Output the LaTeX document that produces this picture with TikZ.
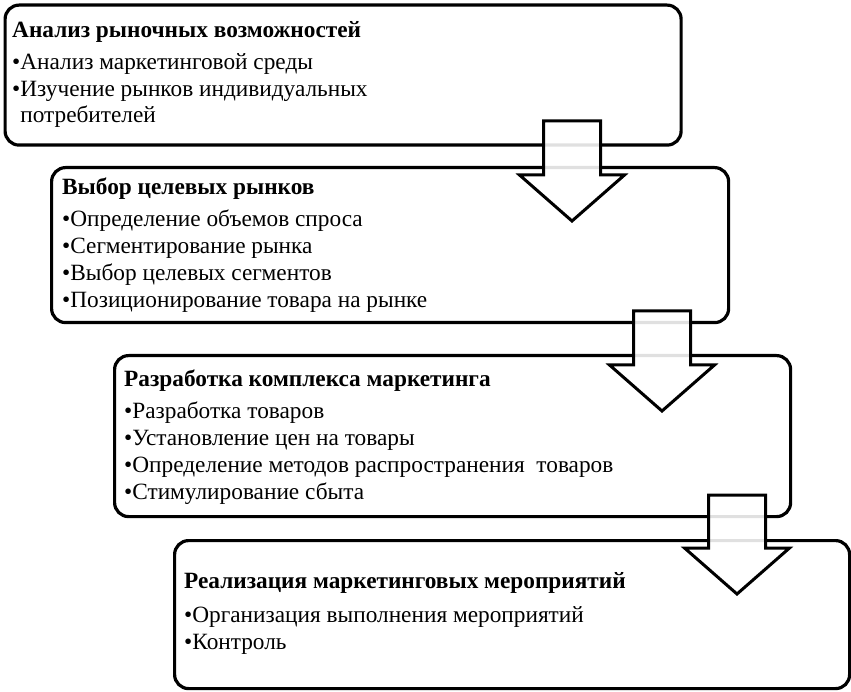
\documentclass[tikz,border=0pt]{standalone}
\usepackage{fontspec}
\setmainfont{Liberation Serif}
\usetikzlibrary{positioning}
\tikzset{
  box/.style={draw, line width=3.2pt, rounded corners=14pt, anchor=north west, inner sep=0pt},
  head/.style={anchor=base west, inner sep=0pt, font=\fontsize{23.3}{27}\selectfont\bfseries},
  item/.style={anchor=base west, inner sep=0pt, font=\fontsize{23.3}{27}\selectfont},
  downarrow/.style={draw, line width=3pt, line join=miter, fill=white, fill opacity=0.88}
}
\begin{document}
\begin{tikzpicture}[x=1pt,y=-1pt]
\useasboundingbox (0,0) rectangle (851,692);
% boxes
\node[box, minimum width=676pt, minimum height=140pt] (analiz) at (3.5,3.5) {};
\node[box, minimum width=677pt, minimum height=155pt] (vybor) at (50,166) {};
\node[box, minimum width=676pt, minimum height=161pt] (razrab) at (113,354) {};
\node[box, minimum width=675pt, minimum height=148pt] (realiz) at (173,539) {};
% texts
\node[head] (analiz-t) at (12,38) {Анализ рыночных возможностей};
\foreach \t [count=\i] in {•Анализ маркетинговой среды,•Изучение рынков индивидуальных,\phantom{•}потребителей}
  \node[item] (analiz-\i) at (12,{70+26.5*(\i-1)}) {\t};
\node[head] (vybor-t) at (62,195) {Выбор целевых рынков};
\foreach \t [count=\i] in {Определение объемов спроса,Сегментирование рынка,Выбор целевых сегментов,Позиционирование товара на рынке}
  \node[item] (vybor-\i) at (62,{227+27*(\i-1)}) {•\t};
\node[head] (razrab-t) at (124,386) {Разработка комплекса маркетинга};
\foreach \t [count=\i] in {Разработка товаров,Установление цен на товары,Определение методов распространения\ \ товаров,Стимулирование сбыта}
  \node[item] (razrab-\i) at (124,{418+27.3*(\i-1)}) {•\t};
\node[head] (realiz-t) at (184,588) {Реализация маркетинговых мероприятий};
\foreach \t [count=\i] in {Организация выполнения мероприятий,Контроль}
  \node[item] (realiz-\i) at (184,{622+27.5*(\i-1)}) {•\t};
% arrows between boxes
\foreach \cx/\yt/\yh/\yb in {572/121/175/221,662/311/365/411,737/495/548/594}
  \draw[downarrow] (\cx-28.5,\yt) -- (\cx+28.5,\yt) -- (\cx+28.5,\yh) -- (\cx+52.5,\yh)
    -- (\cx,\yb) -- (\cx-52.5,\yh) -- (\cx-28.5,\yh) -- cycle;
\end{tikzpicture}
\end{document}
